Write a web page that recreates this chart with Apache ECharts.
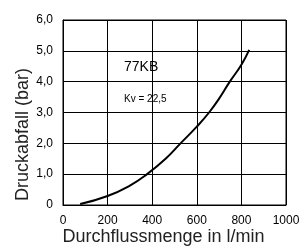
<!DOCTYPE html>
<html>
<head>
<meta charset="utf-8">
<script src="https://cdn.jsdelivr.net/npm/echarts@6/dist/echarts.min.js"></script>
<style>
  html, body { margin: 0; padding: 0; background: #fff; }
  #chart { width: 299px; height: 246px; }
</style>
</head>
<body>
<div id="chart"></div>
<script>
// Durchfluss (l/min) und Druckabfall (bar)
var flow = [77, 200, 300, 377, 460, 527, 600, 655, 700, 748, 800, 835];
var drop = [0.03, 0.29, 0.63, 1.0, 1.50, 2.0, 2.54, 3.0, 3.45, 4.0, 4.55, 5.03];

var chart = echarts.init(document.getElementById('chart'));

var points = flow.map(function (q, i) { return [q, drop[i]]; });

var option = {
    animation: false,
    title: {
        text: '77KB - 1 1/2',
        left: 17,
        top: -19,
        padding: [0, 5, 0, 5],
        textStyle: { fontFamily: 'Liberation Sans', fontSize: 19, fontWeight: 'bold', color: '#000' }
    },
    grid: { left: 63, right: 13, top: 20, bottom: 41, outerBoundsMode: 'none' },
    xAxis: {
        type: 'value',
        min: 0,
        max: 1000,
        interval: 200,
        name: 'Durchflussmenge in l/min',
        nameLocation: 'middle',
        nameGap: 23,
        nameMoveOverlap: false,
        nameTextStyle: { fontFamily: 'Liberation Sans', fontSize: 18, color: '#222', padding: [0, 22, 0, 0] },
        axisLine: { lineStyle: { color: '#000', width: 1 } },
        axisTick: { show: false },
        axisLabel: {
            fontFamily: 'Liberation Sans', fontSize: 12, color: '#000', margin: 10,
            formatter: function (v) { return String(v); }
        },
        splitLine: { lineStyle: { color: '#000', width: 1 } }
    },
    yAxis: {
        type: 'value',
        min: 0,
        max: 6,
        interval: 1,
        name: 'Druckabfall (bar)',
        nameLocation: 'middle',
        nameGap: 31,
        nameMoveOverlap: false,
        nameTextStyle: { fontFamily: 'Liberation Sans', fontSize: 18, color: '#222', padding: [0, 44, 0, 0] },
        axisLine: { show: true, lineStyle: { color: '#000', width: 1 } },
        axisTick: { show: false },
        axisLabel: {
            fontFamily: 'Liberation Sans', fontSize: 12, color: '#000', margin: 10,
            formatter: function (v) { return v === 0 ? '0' : v.toFixed(1).replace('.', ','); }
        },
        splitLine: { lineStyle: { color: '#000', width: 1 } }
    },
    graphic: [
        {
            type: 'rect',
            shape: { x: 63, y: 20, width: 223, height: 185 },
            style: { fill: 'none', stroke: '#000', lineWidth: 1 },
            silent: true
        },
        {
            type: 'text',
            left: 124,
            top: 60,
            style: { text: '77KB', font: '14px "Liberation Sans"', fill: '#000' }
        },
        {
            type: 'text',
            left: 124,
            top: 94,
            style: { text: 'Kv = 22,5', font: '10px "Liberation Sans"', fill: '#000' }
        }
    ],
    series: [{
        type: 'line',
        data: points,
        smooth: true,
        showSymbol: false,
        lineStyle: { color: '#000', width: 2 }
    }]
};

chart.setOption(option);
</script>
</body>
</html>
